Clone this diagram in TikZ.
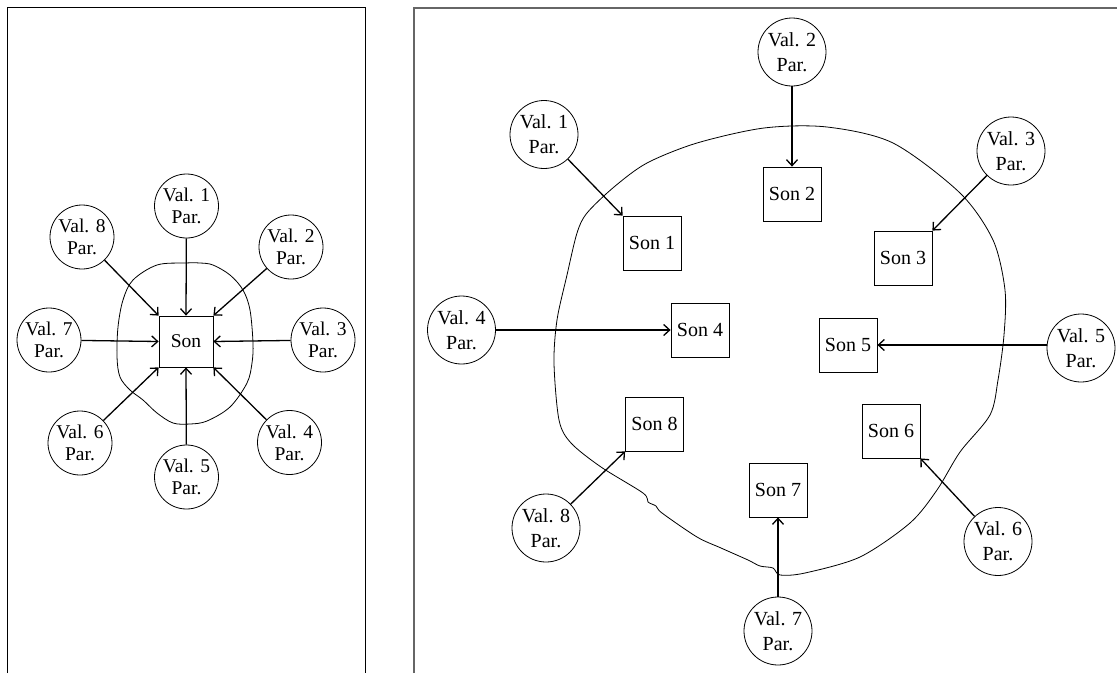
\documentclass[tikz,border=0pt]{standalone}
\usepackage{fontspec}
\setmainfont{Liberation Serif}
\usetikzlibrary{shapes.geometric,arrows.meta}
\begin{document}
\begin{tikzpicture}[x=1pt,y=-1pt,
  lval/.style={circle,draw,line width=0.8pt,minimum size=64pt,inner sep=0pt,align=center,font=\fontsize{19.5}{22}\selectfont},
  lson/.style={rectangle,draw,line width=0.8pt,minimum width=54pt,minimum height=51pt,inner sep=0pt,font=\fontsize{19.5}{22}\selectfont},
  rval/.style={circle,draw,line width=0.8pt,minimum size=68pt,inner sep=0pt,align=center,font=\fontsize{20}{25}\selectfont},
  rson/.style={rectangle,draw,line width=0.8pt,minimum width=58pt,minimum height=54pt,inner sep=0pt,font=\fontsize{20}{24}\selectfont},
  arr/.style={line width=1.3pt,-{Straight Barb[length=6pt,width=11pt]}},
  blob/.style={line width=0.8pt},
  frame/.style={line width=1pt}]
\useasboundingbox (0,0) rectangle (1117,673);
% panels
\draw[frame] (7.5,673) -- (7.5,7.5) -- (365.5,7.5) -- (365.5,673);
\draw[frame,draw=black!60,line width=1.3pt] (414,673) -- (414,8) -- (1117,8);

% left panel
\draw[blob] plot[smooth cycle,tension=0.55] coordinates {(185,263) (200,263) (213,265) (230,275) (243,290) (250,310) (253,343) (252,363) (247,383) (230,407) (207,421) (190,424) (173,423) (157,413) (143,400) (130,390) (120,377) (117,357) (118,327) (123,300) (133,280) (157,265)};
\node[lson] (son) at (186,341.5) {Son};
\node[lval] (L1) at (186.5,206) {Val. 1\\Par.};
\node[lval] (L2) at (291,247) {Val. 2\\Par.};
\node[lval] (L3) at (323,340) {Val. 3\\Par.};
\node[lval] (L4) at (289.5,442.5) {Val. 4\\Par.};
\node[lval] (L5) at (186.5,477) {Val. 5\\Par.};
\node[lval] (L6) at (80,443) {Val. 6\\Par.};
\node[lval] (L7) at (49,340) {Val. 7\\Par.};
\node[lval] (L8) at (82,237) {Val. 8\\Par.};
\draw[arr] (L1) -- (son.north);
\draw[arr] (L2) -- (son.north east);
\draw[arr] (L3) -- (son.east);
\draw[arr] (L4) -- (son.south east);
\draw[arr] (L5) -- (son.south);
\draw[arr] (L6) -- (son.south west);
\draw[arr] (L7) -- (son.west);
\draw[arr] (L8) -- (son.north west);

% right panel
\draw[blob] plot[smooth cycle,tension=0.5] coordinates {(764,128) (827,127) (893,143) (960,193) (993,240) (1005,290) (1004,335) (998,380) (990,415) (960,452) (937,490) (910,523) (860,557) (805,573) (780,575) (773,568) (760,566) (748,560) (721,548) (697,537) (662,513) (656,506) (648,502) (643,493) (601,467) (571,443) (559,420) (554,363) (557,320) (567,275) (577,233) (587,213) (614,187) (647,163) (697,143)};
\node[rson] (S1) at (652,243) {Son 1};
\node[rson] (S2) at (792,194) {Son 2};
\node[rson] (S3) at (903,258) {Son 3};
\node[rson] (S4) at (700,330) {Son 4};
\node[rson] (S5) at (848,345) {Son 5};
\node[rson] (S6) at (891,431) {Son 6};
\node[rson] (S7) at (778,490) {Son 7};
\node[rson] (S8) at (654.5,424) {Son 8};
\node[rval] (V1) at (544,134.5) {Val. 1\\Par.};
\node[rval] (V2) at (792,52) {Val. 2\\Par.};
\node[rval] (V3) at (1011,151) {Val. 3\\Par.};
\node[rval] (V4) at (461.5,330) {Val. 4\\Par.};
\node[rval] (V5) at (1081,348) {Val. 5\\Par.};
\node[rval] (V6) at (998,541.5) {Val. 6\\Par.};
\node[rval] (V7) at (778,631) {Val. 7\\Par.};
\node[rval] (V8) at (546,528) {Val. 8\\Par.};
\draw[arr] (V1) -- (S1.north west);
\draw[arr] (V2) -- (S2.north);
\draw[arr] (V3) -- (S3.north east);
\draw[arr] (V4) -- (S4.west);
\draw[arr] (S5.east -| V5.west) -- (S5.east);
\draw[arr] (V6) -- (S6.south east);
\draw[arr] (V7) -- (S7.south);
\draw[arr] (V8) -- (S8.south west);
\end{tikzpicture}
\end{document}
